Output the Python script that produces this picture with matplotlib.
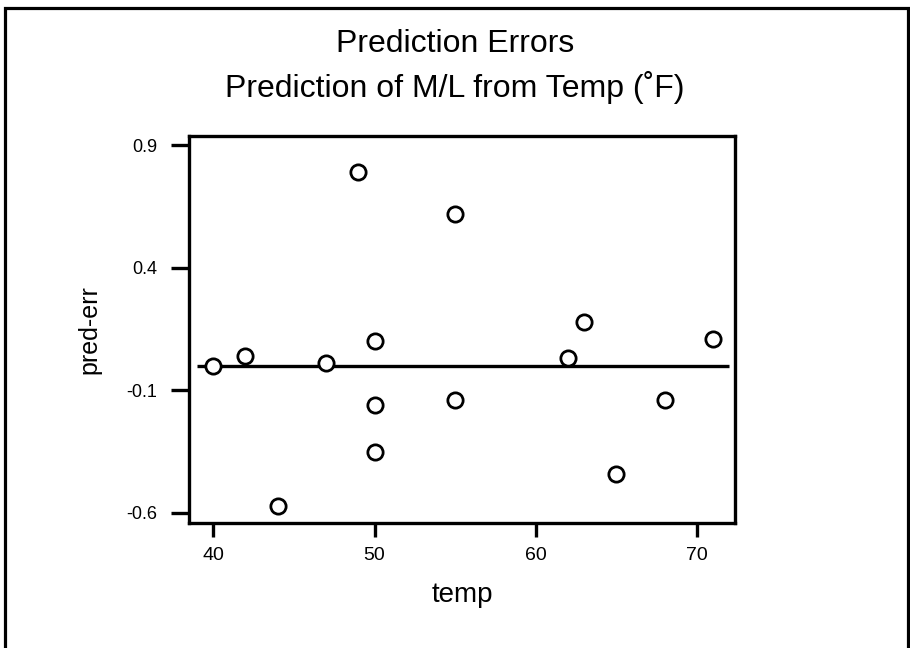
import matplotlib
matplotlib.use("Agg")
import matplotlib.pyplot as plt
from matplotlib.patches import Rectangle

plt.rcParams["font.family"] = ["Liberation Sans", "DejaVu Sans"]

# temperatures (F) and prediction errors of M/L
temp = [40, 42, 44, 47, 49, 50, 50, 50, 55, 55, 62, 63, 65, 68, 71]
pred_err = [0.00, 0.04, -0.57, 0.01, 0.79, 0.10, -0.16, -0.35, 0.62, -0.14,
            0.03, 0.18, -0.44, -0.14, 0.11]

# zero-error reference line
zero_level = 0.0
zero_span = [39, 72]

x_ticks = [40, 50, 60, 70]
y_ticks = [-0.6, -0.1, 0.4, 0.9]
y_ticklabels = ["-0.6", "-0.1", "0.4", "0.9"]

fig = plt.figure(figsize=(9.1, 6.48), dpi=100)

# frame around the whole figure (open at the bottom)
fig.patches.append(Rectangle((0.006, -0.05), 0.992, 1.038, transform=fig.transFigure,
                             fill=False, edgecolor="black", linewidth=2.3))

ax = fig.add_axes([0.2077, 0.193, 0.6, 0.597])

ax.hlines(zero_level, zero_span[0], zero_span[1], color="black", linewidth=2.4, zorder=2)
ax.plot(temp, pred_err, linestyle="none", marker="o", markersize=11,
        markerfacecolor="white", markeredgecolor="black", markeredgewidth=2.0, zorder=3)

ax.set_xlim(38.5, 72.35)
ax.set_ylim(-0.641, 0.937)
ax.set_xticks(x_ticks)
ax.set_yticks(y_ticks)
ax.set_yticklabels(y_ticklabels)

for s in ax.spines.values():
    s.set_linewidth(2.4)
ax.tick_params(axis="x", direction="out", length=10, width=2.4, pad=7, labelsize=14)
ax.tick_params(axis="y", direction="out", length=13, width=2.4, pad=10, labelsize=13)

ax.set_xlabel("temp", fontsize=20, labelpad=13)
ax.set_ylabel("pred-err", fontsize=18, labelpad=18)

fig.text(0.5, 1 - 52 / 648, "Prediction Errors", ha="center", va="baseline", fontsize=23)
fig.text(0.5, 1 - 97 / 648, "Prediction of M/L from Temp (\u02daF)", ha="center",
         va="baseline", fontsize=23)

fig.savefig("out.png", dpi=100)
